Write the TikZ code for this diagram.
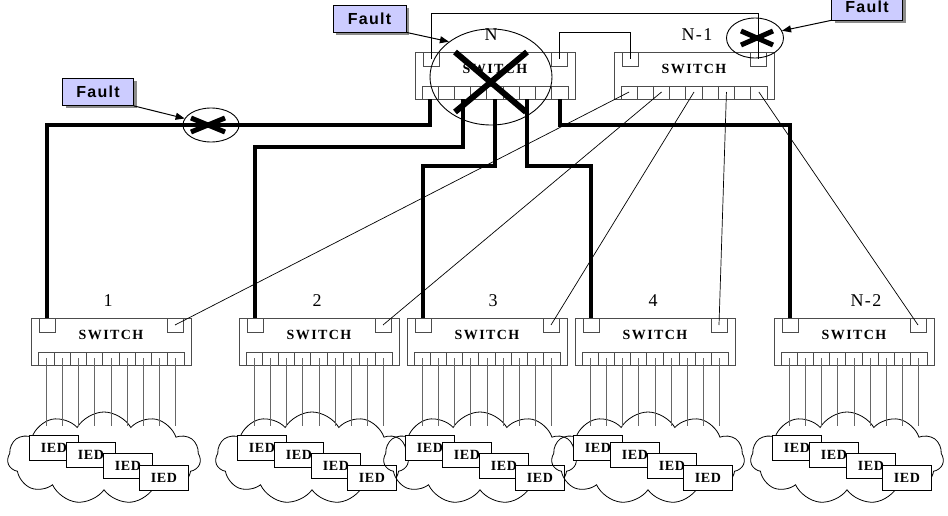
\documentclass[tikz,border=0pt]{standalone}
\usepackage{fontspec}
\setmainfont{Liberation Serif}
\newfontfamily\faultfont[LetterSpace=8]{Liberation Sans}
\newfontfamily\swfont[LetterSpace=10]{Liberation Serif}
\newfontfamily\iedfont[LetterSpace=5]{Liberation Serif}
\newfontfamily\numfont[LetterSpace=8]{Liberation Serif}
\usetikzlibrary{shapes.symbols,shapes.geometric,shadows,calc,arrows.meta}

\tikzset{
  swline/.style={draw=black!70, line width=0.8pt},
  sqport/.style={draw=black!70, line width=0.8pt, minimum width=16pt, minimum height=14pt, inner sep=0pt},
  swtext/.style={font=\swfont\bfseries\fontsize{14}{14}\selectfont, inner sep=0pt},
  numlab/.style={font=\numfont\fontsize{18}{18}\selectfont, inner sep=0pt},
  iedbox/.style={draw=black, fill=white, line width=0.8pt, minimum width=49pt, minimum height=25pt, inner sep=0pt, anchor=north west, font=\iedfont\bfseries\fontsize{14}{14}\selectfont},
  iedline/.style={draw=black!60, line width=0.9pt},
  cloudshape/.style={cloud, draw=black, line width=0.8pt, cloud puffs=11, cloud puff arc=120, cloud ignores aspect, minimum width=193pt, minimum height=92pt, inner sep=0pt},
  thickline/.style={draw=black, line width=4pt},
  thinline/.style={draw=black, line width=0.7pt},
  faultbox/.style={draw=black, line width=0.8pt, fill=blue!20, minimum width=71pt, minimum height=27pt, inner sep=0pt,
    drop shadow={shadow xshift=3pt, shadow yshift=-3pt, opacity=1, fill=black!45},
    font=\faultfont\bfseries\fontsize{16}{16}\selectfont},
  faultarrow/.style={draw=black, line width=1pt, -{Triangle[length=9pt,width=7pt]}},
  faultring/.style={ellipse, draw=black, line width=0.9pt, inner sep=0pt},
  crossline/.style={draw=black, line width=5pt},
}

% #1 name, #2 left x, #3 top y, #4 label, #5 label x
\newcommand\mkswitch[5]{%
  \draw[swline] (#2,#3) rectangle ++(160,47);
  \draw[swline] (#2+7,#3+34) rectangle ++(146,13);
  \foreach \i in {1,...,8} { \draw[swline] (#2+7+\i*16.222,#3+34) -- ++(0,13); }
  \node[sqport] (#1-L) at (#2+16,#3+7) {};
  \node[sqport] (#1-R) at (#2+144,#3+7) {};
  \foreach \i in {1,...,9} {
    \coordinate (#1-p\i) at (#2+7+\i*16.222-8.111,#3+40);
    \coordinate (#1-b\i) at (#2+7+\i*16.222-8.111,#3+47);
  }
  \node[swtext] (#1-t) at (#2+80,#3+17) {SWITCH};
  \node[numlab] (#1-n) at (#5,#3-17) {#4};
}

% #1 name, #2 left x of switch
\newcommand\mkcloud[2]{%
  \node[cloudshape] (#1-cloud) at (#2+73,458) {};
  \foreach \i in {1,...,9} {
    \coordinate (#1-c\i) at (#2+7+\i*16.222-8.111,426);
    \draw[iedline] (#1-p\i) -- (#1-c\i);
  }
  \node[iedbox] (#1-ied1) at (#2-2,435) {IED};
  \node[iedbox] (#1-ied2) at (#2+35,442) {IED};
  \node[iedbox] (#1-ied3) at (#2+72,453) {IED};
  \node[iedbox] (#1-ied4) at (#2+108,465) {IED};
}

\begin{document}
\begin{tikzpicture}[x=1pt,y=-1pt]
\useasboundingbox (0,0) rectangle (948,516);
\fill[white] (0,0) rectangle (948,516);

% top switches
\mkswitch{N}{415}{52}{N}{491}
\mkswitch{N1}{614}{52}{N-1}{697}

% lower switches
\mkswitch{s1}{31}{318}{1}{108}
\mkswitch{s2}{239}{318}{2}{317}
\mkswitch{s3}{407}{318}{3}{493}
\mkswitch{s4}{575}{318}{4}{653}
\mkswitch{s5}{774}{318}{N-2}{866}

% clouds with IEDs
\mkcloud{s1}{31}
\mkcloud{s2}{239}
\mkcloud{s3}{407}
\mkcloud{s4}{575}
\mkcloud{s5}{774}

% level coordinates
\coordinate (h13) at (0,13);
\coordinate (h32) at (0,32);
\coordinate (h125) at (0,125);
\coordinate (h147) at (0,147);
\coordinate (h166) at (0,166);

% top interconnections between N and N-1
\draw[thinline] (N-L.center) -- (N-L.center |- h13) -- (N1-R.center |- h13) -- (N1-R.center);
\draw[thinline] (N-R.center) -- (N-R.center |- h32) -- (N1-L.center |- h32) -- (N1-L.center);

% thin lines from N-1 to lower switches
\draw[thinline] (N1-p1) -- (s1-R.center);
\draw[thinline] (N1-p3) -- (s2-R.center);
\draw[thinline] (N1-p5) -- (s3-R.center);
\draw[thinline] (N1-p7) -- (s4-R.center);
\draw[thinline] (N1-p9) -- (s5-R.center);

% thick lines from N to lower switches
\draw[thickline] (s1-L.north) -- (s1-L.north |- h125) -- (N-b1 |- h125) -- (N-b1);
\draw[thickline] (s2-L.north) -- (s2-L.north |- h147) -- (N-b3 |- h147) -- (N-b3);
\draw[thickline] (s3-L.north) -- (s3-L.north |- h166) -- (N-b5 |- h166) -- (N-b5);
\draw[thickline] (s4-L.north) -- (s4-L.north |- h166) -- (N-b7 |- h166) -- (N-b7);
\draw[thickline] (N-b9) -- (N-b9 |- h125) -- (s5-L.north |- h125) -- (s5-L.north);

% fault on switch N
\node[faultring, minimum width=122pt, minimum height=96pt] (EN) at (491,77) {};
\draw[crossline, line width=6pt] ($(EN)+(-36,-25)$) -- ($(EN)+(35,35)$);
\draw[crossline, line width=6pt] ($(EN)+(36,-25)$) -- ($(EN)+(-36,35)$);

% fault on link
\node[faultring, minimum width=56pt, minimum height=34pt] (EL) at (211,125) {};
\draw[crossline] ($(EL)+(-20,-7)$) -- ($(EL)+(14,7)$);
\draw[crossline] ($(EL)+(-20,7)$) -- ($(EL)+(14,-7)$);

% fault on N-1 port
\node[faultring, minimum width=57pt, minimum height=40pt] (ER) at (755,38) {};
\draw[crossline] ($(ER)+(-14,-7)$) -- ($(ER)+(18,7)$);
\draw[crossline] ($(ER)+(-14,7)$) -- ($(ER)+(18,-7)$);

% fault labels
\node[faultbox] (FL) at (98,92) {Fault};
\node[faultbox, minimum width=73pt] (FN) at (369.5,18.5) {Fault};
\node[faultbox] (FR) at (867,6.5) {Fault};

\draw[faultarrow] (FL.south east) -- (EL);
\draw[faultarrow] (FN.south east) -- (EN.140);
\draw[faultarrow] (FR.south west) -- (ER.15);
\end{tikzpicture}
\end{document}
